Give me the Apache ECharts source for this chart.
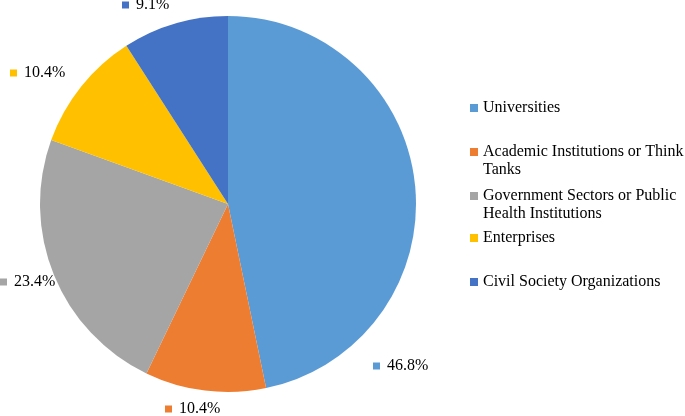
<!DOCTYPE html>
<html><head><meta charset="utf-8">
<script src="https://cdn.jsdelivr.net/npm/echarts@6/dist/echarts.min.js"></script>
<style>html,body{margin:0;padding:0;background:#fff}#c{width:685px;height:416px}</style>
</head><body><div id="c"></div>
<script>
const categories = ['Universities', 'Academic Institutions or Think Tanks', 'Government Sectors or Public Health Institutions', 'Enterprises', 'Civil Society Organizations'];
const legendLines = [['Universities'], ['Academic Institutions or Think', 'Tanks'], ['Government Sectors or Public', 'Health Institutions'], ['Enterprises'], ['Civil Society Organizations']];
const values = [46.8, 10.4, 23.4, 10.4, 9.1];
const valueLabels = ['46.8%', '10.4%', '23.4%', '10.4%', '9.1%'];

// layout / style (kept separate from data)
const colors = ['#5B9BD5', '#ED7D31', '#A5A5A5', '#FFC000', '#4472C4'];
const labelAnchors = [[373, 366], [165, 409], [0, 282], [10, 73], [122, 5]];
const legendRowCenters = [108, 152, 196, 238, 282];
const FONT = "'Liberation Serif', 'Times New Roman', serif";

const rich = { t: { fontFamily: FONT, fontSize: 16, color: '#000', padding: [0, 0, 0, 7] } };
colors.forEach((c, i) => { rich['m' + i] = { width: 7, height: 7, backgroundColor: c }; });

const chart = echarts.init(document.getElementById('c'), null, { renderer: 'canvas' });
chart.setOption({
  animation: false,
  backgroundColor: '#fff',
  legend: categories.map((c, i) => {
    const multi = legendLines[i].length > 1;
    return {
      data: [c], orient: 'vertical', left: 470,
      top: legendRowCenters[i] - 9 * (multi ? 3 : 1),
      padding: 0, icon: 'rect', itemWidth: 8, itemHeight: 8, selectedMode: false,
      formatter: () => multi ? '\n' + legendLines[i].join('\n') : legendLines[i][0],
      textStyle: { fontFamily: FONT, fontSize: 16, lineHeight: 18, color: '#000' }
    };
  }),
  series: [{
    type: 'pie', center: [228, 204], radius: 188, startAngle: 90, clockwise: true,
    avoidLabelOverlap: false,
    itemStyle: { borderWidth: 0 },
    emphasis: { disabled: true },
    label: {
      show: true, position: 'outside',
      formatter: p => '{m' + p.dataIndex + '|}{t|' + valueLabels[p.dataIndex] + '}',
      rich: rich
    },
    labelLine: { show: false },
    labelLayout: p => ({ x: labelAnchors[p.dataIndex][0], y: labelAnchors[p.dataIndex][1], align: 'left', verticalAlign: 'middle' }),
    data: categories.map((c, i) => ({ name: c, value: values[i], itemStyle: { color: colors[i] } }))
  }]
});
</script></body></html>
